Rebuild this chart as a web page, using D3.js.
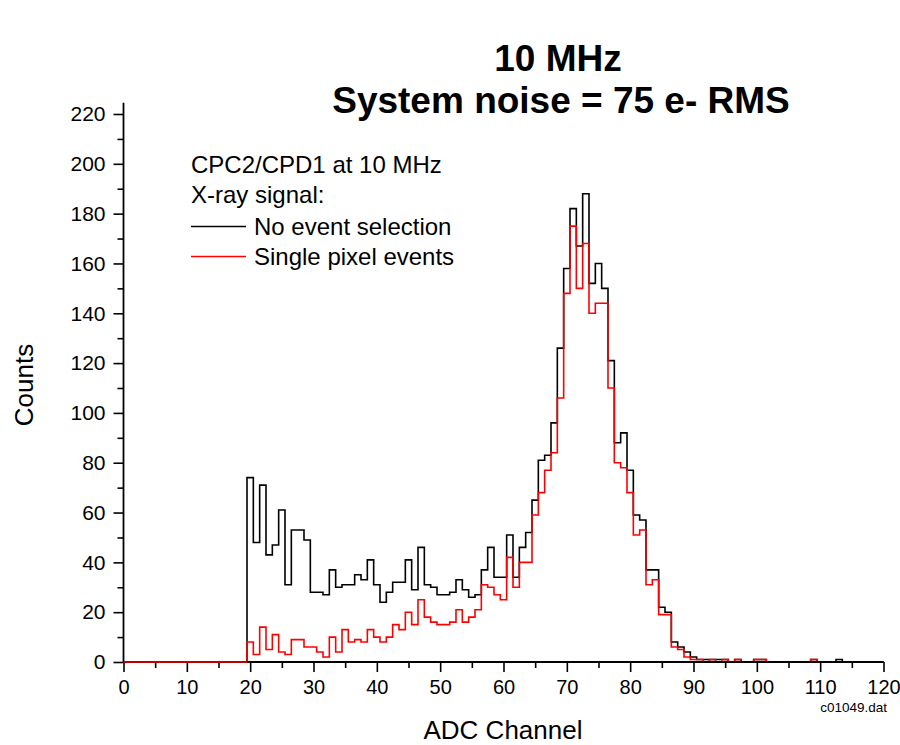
<!DOCTYPE html>
<html><head><meta charset="utf-8">
<script src="https://cdn.jsdelivr.net/npm/d3@7"></script>
<style>body{margin:0;background:#fff}svg{display:block}text{font-family:"Liberation Sans",Arial,sans-serif;fill:#000}</style>
</head><body><svg id="c" width="900" height="745"></svg>
<script>
const channels = [20,21,22,23,24,25,26,27,28,29,30,31,32,33,34,35,36,37,38,39,40,41,42,43,44,45,46,47,48,49,50,51,52,53,54,55,56,57,58,59,60,61,62,63,64,65,66,67,68,69,70,71,72,73,74,75,76,77,78,79,80,81,82,83,84,85,86,87,88,89,90,91,92,93,94,95,96,97,98,99,100,101,102,103,104,105,106,107,108,109,110,111,112,113];
const noEventSelection = [74,48,71,43,47,61,31,53,53,49,28,28,27,37,30,31,31,35,33,41,31,24,28,32,32,41,29,46,31,30,27,27,28,33,29,26,27,37,46,34,34,51,34,46,52,65,81,83,96,126,158,182,167,188,152,160,150,121,88,92,77,59,57,37,37,22,20,8,6,4,2,1,1,1,1,1,0,1,0,0,1,1,0,0,0,0,0,0,0,1,0,0,0,1];
const singlePixelEvents = [8,3,14,5,11,4,3,9,9,6,6,4,2,10,4,13,8,9,8,13,10,8,10,15,13,20,15,25,18,16,15,15,16,21,16,18,21,31,30,27,25,42,30,40,40,59,68,77,84,106,148,175,150,168,140,144,144,110,80,78,68,51,53,31,33,19,19,6,5,2,1,1,0,1,0,1,0,1,0,0,1,1,0,0,0,0,0,0,0,1,0,0,0,0];
const xMajorTicks = [0,10,20,30,40,50,60,70,80,90,100,110,120];
const xMinorTicks = [5,15,25,35,45,55,65,75,85,95,105,115];
const yMajorTicks = [0,20,40,60,80,100,120,140,160,180,200,220];
const yMinorTicks = [10,30,50,70,90,110,130,150,170,190,210];
const titleLines = ["10 MHz", "System noise = 75 e- RMS"];
const legendHeader = ["CPC2/CPD1 at 10 MHz", "X-ray signal:"];
const seriesNames = ["No event selection", "Single pixel events"];
const seriesColors = ["#000000", "#ff0000"];

const svg = d3.select("#c");
const x = d3.scaleLinear().domain([0,120]).range([123.5,883.5]);
const y = d3.scaleLinear().domain([0,220]).range([662,114]);

function stepPoints(vals){
  const pts = [[0,0]];
  channels.forEach((c,i)=>pts.push([c-0.5, vals[i]]));
  pts.push([channels[channels.length-1]+0.5, 0]);
  pts.push([120, 0]);
  return pts;
}
const line = d3.line().x(d=>x(d[0])).y(d=>y(d[1])).curve(d3.curveStepAfter);

[noEventSelection, singlePixelEvents].forEach((vals,i)=>{
  svg.append("path").attr("d", line(stepPoints(vals)))
    .attr("fill","none").attr("stroke", seriesColors[i]).attr("stroke-width",1.6);
});

// axes
const gx = svg.append("g").attr("transform",`translate(0,${y(0)})`);
gx.call(d3.axisBottom(x).tickValues(xMajorTicks).tickSize(10).tickPadding(8).tickFormat(d3.format("d")));
gx.append("g").call(d3.axisBottom(x).tickValues(xMinorTicks).tickSize(6).tickFormat(""));
const gy = svg.append("g").attr("transform",`translate(${x(0)},0)`);
gy.call(d3.axisLeft(y).tickValues(yMajorTicks).tickSize(10).tickPadding(8).tickFormat(d3.format("d")));
gy.append("g").call(d3.axisLeft(y).tickValues(yMinorTicks).tickSize(6).tickFormat(""));
svg.selectAll(".domain").remove();
svg.selectAll(".tick line").attr("stroke","#000").attr("stroke-width",1.6);
gy.selectAll(".tick text").attr("font-size",21).attr("font-family",'"Liberation Sans",Arial,sans-serif');
gx.selectAll(".tick text").attr("font-size",20).attr("font-family",'"Liberation Sans",Arial,sans-serif');
svg.append("line").attr("x1",x(0)).attr("x2",x(120)).attr("y1",y(0)).attr("y2",y(0)).attr("stroke","#000").attr("stroke-width",1.8);
svg.append("line").attr("x1",x(0)).attr("x2",x(0)).attr("y1",y(0)).attr("y2",y(224.5)).attr("stroke","#000").attr("stroke-width",1.8);
// single pixel line at zero before channel 20 sits on top of the axis
svg.append("line").attr("x1",x(0)).attr("x2",x(19.5)).attr("y1",y(0)).attr("y2",y(0)).attr("stroke",seriesColors[1]).attr("stroke-width",1.6);

// titles
svg.append("text").attr("x",558).attr("y",71).attr("text-anchor","middle").attr("font-size",37).attr("font-weight","bold").text(titleLines[0]);
svg.append("text").attr("x",561).attr("y",113).attr("text-anchor","middle").attr("font-size",37).attr("font-weight","bold").text(titleLines[1]);
svg.append("text").attr("x",503).attr("y",739).attr("text-anchor","middle").attr("font-size",26).text("ADC Channel");
svg.append("text").attr("transform","translate(33,385) rotate(-90)").attr("text-anchor","middle").attr("font-size",26).text("Counts");
svg.append("text").attr("x",887).attr("y",712).attr("text-anchor","end").attr("font-size",13.5).text("c01049.dat");

// legend
svg.append("text").attr("x",191).attr("y",173).attr("font-size",24).text(legendHeader[0]);
svg.append("text").attr("x",191).attr("y",203).attr("font-size",24).text(legendHeader[1]);
seriesNames.forEach((n,i)=>{
  const yy = 226.5 + i*30;
  svg.append("line").attr("x1",191).attr("x2",246).attr("y1",yy).attr("y2",yy).attr("stroke",seriesColors[i]).attr("stroke-width",1.6);
  svg.append("text").attr("x",254).attr("y",yy+8.5).attr("font-size",24).text(n);
});
</script></body></html>
